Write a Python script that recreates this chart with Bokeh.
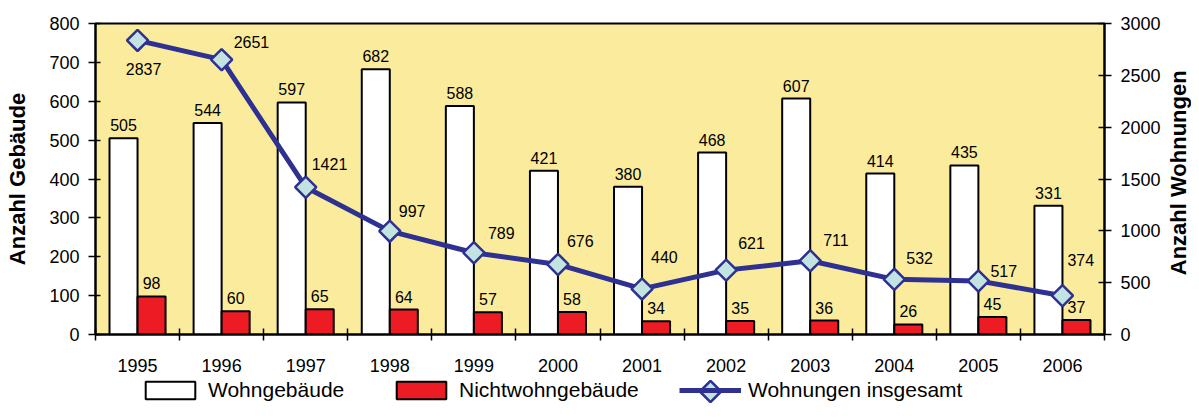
import numpy as np
from bokeh.plotting import figure
from bokeh.layouts import column, row
from bokeh.models import (Range1d, LinearAxis, FixedTicker, Legend, LegendItem,
                          ColumnDataSource, Label)
from bokeh.core.properties import value
from bokeh.embed import file_html
from bokeh.resources import INLINE

# ---------------- data ----------------
years = ["1995", "1996", "1997", "1998", "1999", "2000", "2001", "2002",
         "2003", "2004", "2005", "2006"]
wohngebaeude = [505, 544, 597, 682, 588, 421, 380, 468, 607, 414, 435, 331]
nichtwohngebaeude = [98, 60, 65, 64, 57, 58, 34, 35, 36, 26, 45, 37]
wohnungen = [2837, 2651, 1421, 997, 789, 676, 440, 621, 711, 532, 517, 374]
series_names = ["Wohngebäude", "Nichtwohngebäude", "Wohnungen insgesamt"]
left_title = "Anzahl Gebäude"
right_title = "Anzahl Wohnungen"

# ---------------- style ----------------
FONT = "Liberation Sans"
YELLOW = "#FAEC9C"
RED = "#ED1C24"
NAVY = "#2E3192"
MARKER_FILL = "#C2E3E0"
# label placement for the line labels (screen px, like the Excel original)
line_label_dx = [6, 12, 6, 9, 14, 9, 9, 12, 13, 12, 12, 5]
line_label_dy = [29, -18, -23, -20, -20, -23, -32, -27, -21, -21, -10, -36]
line_label_align = ["center"] + ["left"] * 11
# legend item positions (px from the left edge) and key size
legend_x = [139, 390, 679]
KEY_W, KEY_H = 62, 22
KEY_Y = 1              # legend key bottom inside the legend strip

W_TOTAL = 1191
W_TITLE = 26           # strip holding the right axis title
W = W_TOTAL - W_TITLE  # main chart width
H = 379
LH = 24                # legend strip height
n = len(years)
centers = [i + 0.5 for i in range(n)]
bar_w = 1.0 / 3.0
x_white = [c - bar_w / 2 for c in centers]
x_red = [c + bar_w / 2 for c in centers]

p = figure(width=W, height=H, x_range=Range1d(0, n), y_range=Range1d(0, 800),
           output_backend="svg", toolbar_location=None,
           min_border_left=95, min_border_right=W - 1104, min_border_top=23,
           min_border_bottom=H - 334, background_fill_color=YELLOW,
           border_fill_color="white", outline_line_color="black",
           outline_line_width=2)
p.xgrid.visible = False
p.ygrid.visible = False

# ---- x axis ----
xa = p.xaxis[0]
xa.ticker = FixedTicker(ticks=centers, minor_ticks=list(range(n + 1)))
xa.major_label_overrides = {c: y for c, y in zip(centers, years)}
xa.major_tick_line_color = None
xa.major_tick_in = 0
xa.major_tick_out = 0
xa.minor_tick_in = 6
xa.minor_tick_out = 6
xa.minor_tick_line_color = "black"
xa.minor_tick_line_width = 1.5
xa.axis_line_color = "black"
xa.axis_line_width = 2
xa.major_label_standoff = 18
xa.major_label_text_font = FONT
xa.major_label_text_font_size = "18px"
xa.major_label_text_color = "black"

# ---- left y axis ----
ya = p.yaxis[0]
ya.ticker = FixedTicker(ticks=list(range(0, 801, 100)), minor_ticks=[])
ya.major_tick_in = 5
ya.major_tick_out = 7
ya.major_tick_line_width = 1.5
ya.major_tick_line_color = "black"
ya.axis_line_width = 2
ya.axis_line_color = "black"
ya.major_label_standoff = 9
ya.major_label_text_font = FONT
ya.major_label_text_font_size = "18px"
ya.major_label_text_color = "black"
ya.axis_label = left_title
ya.axis_label_text_font = FONT
ya.axis_label_text_font_size = "22px"
ya.axis_label_text_font_style = "bold"
ya.axis_label_text_color = "black"
ya.axis_label_standoff = 16

# ---- right y axis ----
p.extra_y_ranges = {"w": Range1d(0, 3000)}
ra = LinearAxis(y_range_name="w",
                ticker=FixedTicker(ticks=list(range(0, 3001, 500)), minor_ticks=[]))
ra.major_tick_in = 6
ra.major_tick_out = 7
ra.major_tick_line_width = 1.5
ra.major_tick_line_color = "black"
ra.axis_line_width = 2
ra.axis_line_color = "black"
ra.major_label_standoff = 9
ra.major_label_text_font = FONT
ra.major_label_text_font_size = "18px"
ra.major_label_text_color = "black"
p.add_layout(ra, "right")

# ---- bars ----
src = ColumnDataSource(dict(xw=x_white, xr=x_red, xc=centers,
                            wg=wohngebaeude, nw=nichtwohngebaeude, wo=wohnungen,
                            wg_t=[str(v) for v in wohngebaeude],
                            nw_t=[str(v) for v in nichtwohngebaeude],
                            wo_t=[str(v) for v in wohnungen],
                            dx=line_label_dx, dy=line_label_dy,
                            al=line_label_align))

bar_white_style = dict(fill_color="white", line_color="black", line_width=2)
bar_red_style = dict(fill_color=RED, line_color="black", line_width=2)
line_style = dict(line_color=NAVY, line_width=5)
marker_style = dict(marker="square", angle=np.pi / 4, size=15,
                    fill_color=MARKER_FILL, line_color=NAVY, line_width=2.5)

p.vbar(x="xw", top="wg", width=bar_w, bottom=0, source=src, **bar_white_style)
p.vbar(x="xr", top="nw", width=bar_w, bottom=0, source=src, **bar_red_style)

# ---- line ----
p.line(x="xc", y="wo", source=src, y_range_name="w", **line_style)
p.scatter(x="xc", y="wo", source=src, y_range_name="w", **marker_style)

# ---- labels ----
lab_kw = dict(text_font=value(FONT), text_font_size="16px", text_color="black",
              text_baseline="middle")
p.text(x="xw", y="wg", text="wg_t", source=src, text_align="center",
       y_offset=-13, **lab_kw)
p.text(x="xr", y="nw", text="nw_t", source=src, text_align="center",
       y_offset=-13, **lab_kw)
p.text(x="xc", y="wo", text="wo_t", source=src, y_range_name="w",
       text_align="al", x_offset="dx", y_offset="dy", **lab_kw)

# ---- right title strip (reads bottom-to-top like the original) ----
r = figure(width=W_TITLE, height=H, x_range=Range1d(0, 1), y_range=Range1d(0, 1),
           output_backend="svg", toolbar_location=None,
           x_axis_type=None, y_axis_type=None, min_border=0,
           min_border_top=23, min_border_bottom=H - 334,
           min_border_left=0, min_border_right=0,
           outline_line_color=None, background_fill_color=None,
           border_fill_color=None)
r.xgrid.visible = False
r.ygrid.visible = False
r.add_layout(Label(x=0.5, y=0.52, text=right_title, angle=np.pi / 2,
                   text_align="center", text_baseline="middle",
                   text_font=FONT, text_font_size="22px", text_font_style="bold",
                   text_color="black"))

# ---- legend strip (separate small figure below the chart) ----
q = figure(width=W_TOTAL, height=LH, x_range=Range1d(0, W_TOTAL),
           y_range=Range1d(0, LH),
           output_backend="svg", toolbar_location=None,
           x_axis_type=None, y_axis_type=None, min_border=0,
           min_border_left=0, min_border_right=0, min_border_top=0,
           min_border_bottom=0,
           outline_line_color=None, background_fill_color=None,
           border_fill_color=None)
q.xgrid.visible = False
q.ygrid.visible = False
# renderers used only as legend keys: hidden in the strip itself
l_white = q.vbar(x="xw", top="wg", width=bar_w, source=src, visible=False,
                 **bar_white_style)
l_red = q.vbar(x="xr", top="nw", width=bar_w, source=src, visible=False,
               **bar_red_style)
l_line = q.line(x="xc", y="wo", source=src, visible=False, **line_style)

leg_kw = dict(orientation="horizontal", glyph_width=KEY_W, glyph_height=KEY_H,
              label_height=KEY_H, label_standoff=7, padding=0, margin=0,
              border_line_color=None, background_fill_alpha=0,
              label_text_font=FONT, label_text_font_size="21px",
              label_text_color="black", label_text_baseline="middle")
for name, rend, lx in zip(series_names, [l_white, l_red, l_line], legend_x):
    q.add_layout(Legend(items=[LegendItem(label=name, renderers=[rend], index=0)],
                        location=(lx, KEY_Y), **leg_kw))

# diamond key for the line series, centred on its legend key
q.scatter(x=[legend_x[2] + KEY_W / 2], y=[KEY_Y + KEY_H / 2], level="overlay",
          **marker_style)

layout = column(row(p, r, spacing=0), q, spacing=0)
open("out.html", "w").write(file_html(layout, INLINE))
